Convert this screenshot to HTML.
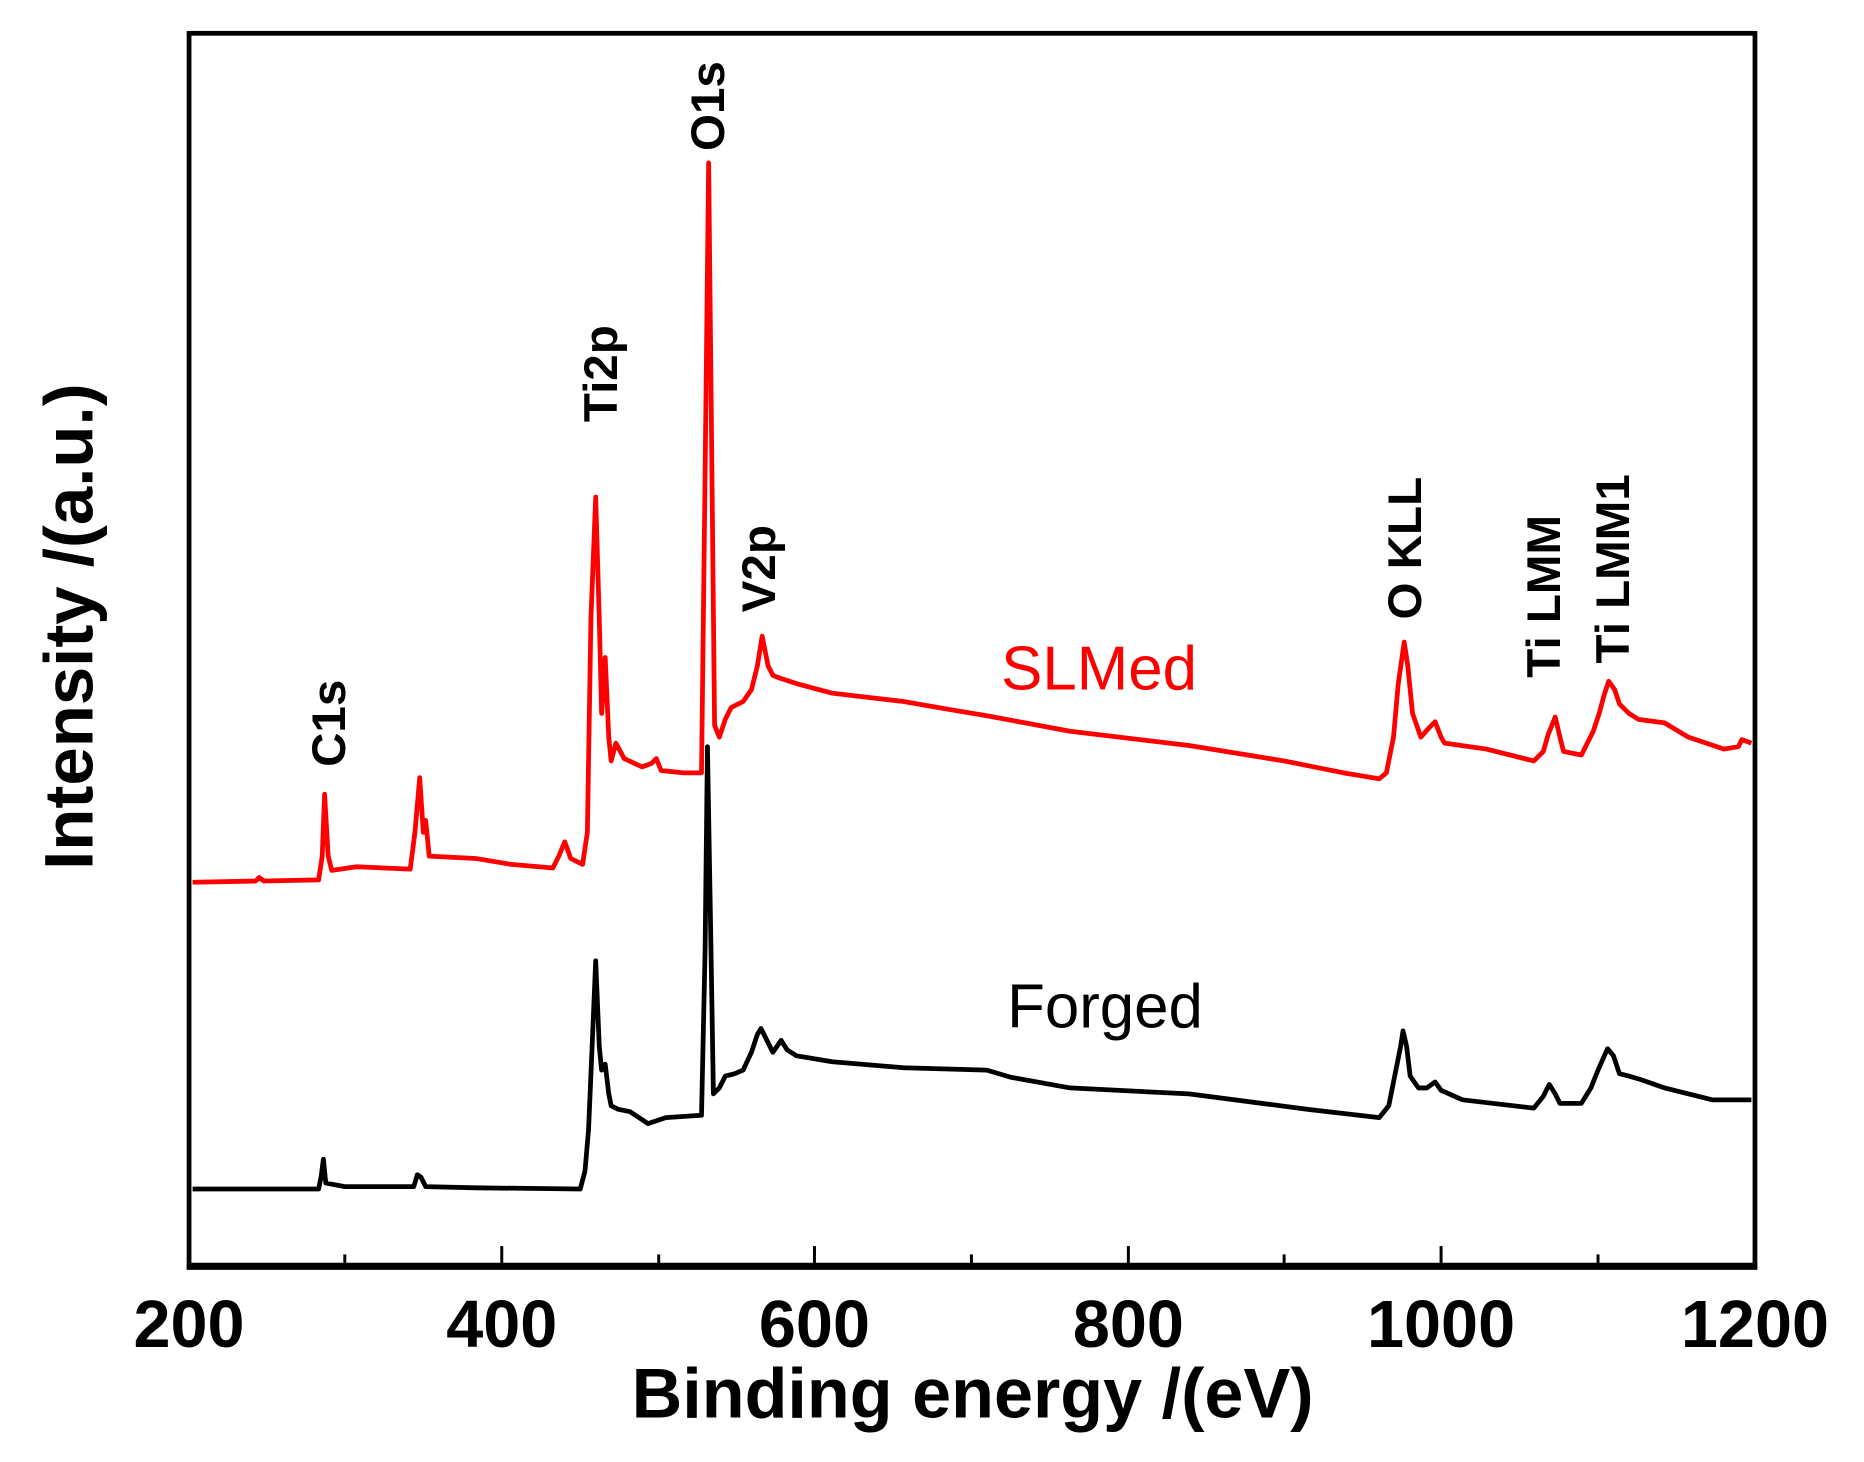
<!DOCTYPE html>
<html><head><meta charset="utf-8"><style>html,body{margin:0;padding:0;background:#fff}svg{display:block}</style></head>
<body>
<svg width="1864" height="1462" viewBox="0 0 1864 1462" xmlns="http://www.w3.org/2000/svg">
<g transform="scale(1.189)" font-family="Liberation Sans, Arial, sans-serif">
<rect x="159" y="28" width="1317" height="1037" fill="none" stroke="#000" stroke-width="4"/>
<line x1="157" y1="1065" x2="1478" y2="1065" stroke="#000" stroke-width="6"/>
<g stroke="#000" stroke-width="2.5">
<line x1="159" y1="1065" x2="159" y2="1048"/><line x1="422" y1="1065" x2="422" y2="1048"/><line x1="685" y1="1065" x2="685" y2="1048"/><line x1="949" y1="1065" x2="949" y2="1048"/><line x1="1212" y1="1065" x2="1212" y2="1048"/>
<line x1="290" y1="1065" x2="290" y2="1055"/><line x1="554" y1="1065" x2="554" y2="1055"/><line x1="817" y1="1065" x2="817" y2="1055"/><line x1="1080" y1="1065" x2="1080" y2="1055"/><line x1="1344" y1="1065" x2="1344" y2="1055"/>
</g>
<g font-weight="bold" font-size="56" text-anchor="middle">
<text x="159" y="1133">200</text><text x="422" y="1133">400</text><text x="685" y="1133">600</text><text x="949" y="1133">800</text><text x="1212" y="1133">1000</text><text x="1476" y="1133">1200</text>
</g>
<text x="818" y="1192" font-weight="bold" font-size="59" text-anchor="middle">Binding energy /(eV)</text>
<text transform="translate(78,527) rotate(-90)" font-weight="bold" font-size="58" text-anchor="middle">Intensity /(a.u.)</text>

<polyline fill="none" stroke="#ff0000" stroke-width="4" stroke-linejoin="round" points="162,742 215,741 218,738 222,741 268,740 271,720 273,668 276,720 279,732 300,729 345,731 349,700 353,654 356,700 358,690 361,720 400,722 430,727 465,730 470,720 475,708 480,722 490,727 494,700 497,520 501,418 504,520 506,600 509,553 512,620 514,640 518,625 525,638 540,645 548,642 552,638 556,648 575,650 590,650 593,400 596,137 599,420 601,610 605,620 610,605 615,595 625,590 632,580 637,560 641,535 644,550 646,560 650,568 655,570 670,575 700,583 760,590 800,597 830,602 900,615 1000,627 1080,640 1130,650 1160,655 1166,650 1172,620 1176,575 1181,540 1184,560 1188,600 1195,620 1202,612 1207,607 1212,620 1215,625 1250,630 1290,640 1298,632 1302,618 1308,603 1312,620 1315,632 1330,635 1340,615 1345,600 1349,585 1353,573 1358,580 1362,592 1370,600 1378,605 1400,608 1420,620 1450,630 1462,628 1465,622 1473,625"/>

<polyline fill="none" stroke="#000" stroke-width="4" stroke-linejoin="round" points="162,1000 268,1000 270,990 272,975 274,995 290,998 348,998 351,988 354,990 358,998 400,999 488,1000 492,985 495,950 498,880 501,808 504,880 506,900 509,895 512,920 514,930 520,933 530,935 545,945 560,940 590,938 593,800 595,628 598,800 600,920 605,915 610,905 618,903 625,900 632,885 637,870 640,865 645,875 650,885 657,875 662,883 670,888 700,893 760,898 830,900 850,906 900,915 1000,920 1100,933 1160,940 1168,930 1173,905 1178,880 1180,867 1183,880 1186,905 1193,915 1200,915 1207,910 1212,917 1230,925 1290,932 1298,922 1303,912 1308,920 1312,928 1330,928 1338,915 1344,900 1352,882 1357,888 1362,903 1370,905 1380,908 1400,915 1440,925 1473,925"/>

<g font-weight="bold" font-size="40">
<text transform="translate(290,645) rotate(-90)">C1s</text>
<text transform="translate(519,355) rotate(-90)">Ti2p</text>
<text transform="translate(609,127) rotate(-90)">O1s</text>
<text transform="translate(652,515) rotate(-90)">V2p</text>
<text transform="translate(1195,521) rotate(-90)">O KLL</text>
<text transform="translate(1312,570) rotate(-90)">Ti LMM</text>
<text transform="translate(1370,558) rotate(-90)">Ti LMM1</text>
</g>
<text x="842" y="580" font-size="52" fill="#ff0000">SLMed</text>
<text x="847" y="864" font-size="52" fill="#000">Forged</text>
</g>
</svg>
</body></html>
